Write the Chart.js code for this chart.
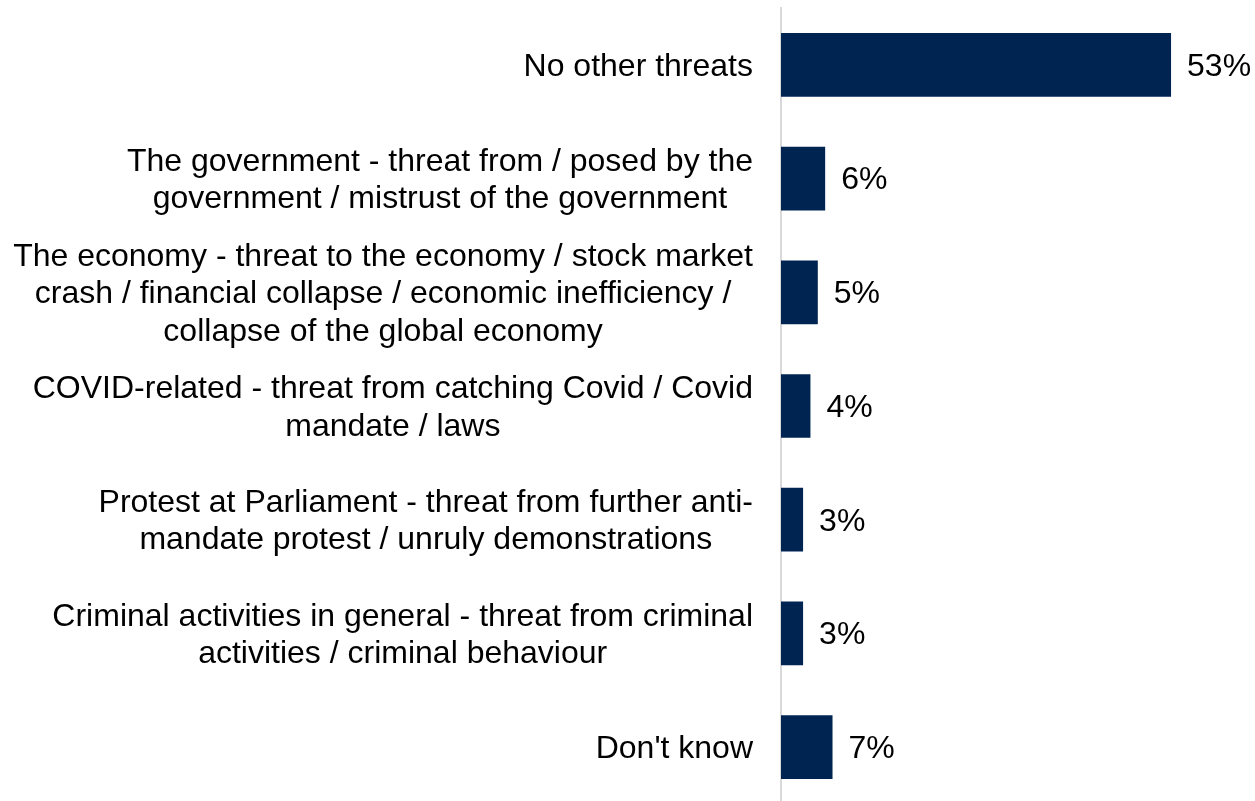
<!DOCTYPE html>
<html>
<head>
<meta charset="utf-8">
<script src="https://cdn.jsdelivr.net/npm/chart.js@4"></script>
<style>
  html, body { margin: 0; padding: 0; background: #fff; overflow: hidden; }
  #wrap { width: 1255px; height: 804px; position: relative; }
</style>
</head>
<body>
<div id="wrap"><canvas id="grafico"></canvas></div>
<script>
// categorias (cada linha do rótulo separada)
const categorias = [
  ["No other threats"],
  ["The government - threat from / posed by the", "government / mistrust of the government"],
  ["The economy - threat to the economy / stock market", "crash / financial collapse / economic inefficiency /", "collapse of the global economy"],
  ["COVID-related - threat from catching Covid / Covid", "mandate / laws"],
  ["Protest at Parliament - threat from further anti-", "mandate protest / unruly demonstrations"],
  ["Criminal activities in general - threat from criminal", "activities / criminal behaviour"],
  ["Don't know"]
];
const valores = [53, 6, 5, 4, 3, 3, 7];

const fonte = "32px 'Liberation Sans', Arial, sans-serif";
const corBarra = "#002452";

// desenha os rótulos do eixo y: bloco alinhado à direita, linhas centradas
const rotulosY = {
  id: "rotulosY",
  afterDraw(chart) {
    const ctx = chart.ctx;
    const y = chart.scales.y;
    const direita = chart.chartArea.left - 28;
    const alturaLinha = 37.5;
    ctx.save();
    ctx.font = fonte;
    ctx.fillStyle = "#000";
    ctx.textAlign = "center";
    ctx.textBaseline = "middle";
    chart.data.labels.forEach((linhas, i) => {
      const meio = y.getPixelForTick(i) + 2;
      const larg = Math.max(...linhas.map(l => ctx.measureText(l).width));
      const cx = direita - larg / 2;
      linhas.forEach((l, j) => {
        ctx.fillText(l, cx, meio + (j - (linhas.length - 1) / 2) * alturaLinha);
      });
    });
    ctx.restore();
  }
};

// valores no fim das barras
const rotulosValor = {
  id: "rotulosValor",
  afterDatasetsDraw(chart) {
    const ctx = chart.ctx;
    const meta = chart.getDatasetMeta(0);
    ctx.save();
    ctx.font = fonte;
    ctx.fillStyle = "#000";
    ctx.textAlign = "left";
    ctx.textBaseline = "middle";
    meta.data.forEach((bar, i) => {
      ctx.fillText(valores[i] + "%", bar.x + 16, bar.y + 2);
    });
    ctx.restore();
  }
};

new Chart(document.getElementById("grafico"), {
  type: "bar",
  data: {
    labels: categorias,
    datasets: [{
      data: valores,
      backgroundColor: corBarra,
      borderWidth: 0,
      categoryPercentage: 1,
      barPercentage: 0.56
    }]
  },
  options: {
    indexAxis: "y",
    responsive: true,
    maintainAspectRatio: false,
    animation: false,
    layout: { padding: { top: 8, right: 3, bottom: 0, left: 0 } },
    plugins: {
      legend: { display: false },
      tooltip: { enabled: false }
    },
    scales: {
      x: {
        display: false,
        min: 0,
        max: 64
      },
      y: {
        ticks: { display: false },
        grid: { display: false, drawTicks: false },
        border: { display: true, color: "#d9d9d9", width: 2 },
        afterFit(scale) { scale.width = 781; }
      }
    }
  },
  plugins: [rotulosY, rotulosValor]
});
</script>
</body>
</html>
